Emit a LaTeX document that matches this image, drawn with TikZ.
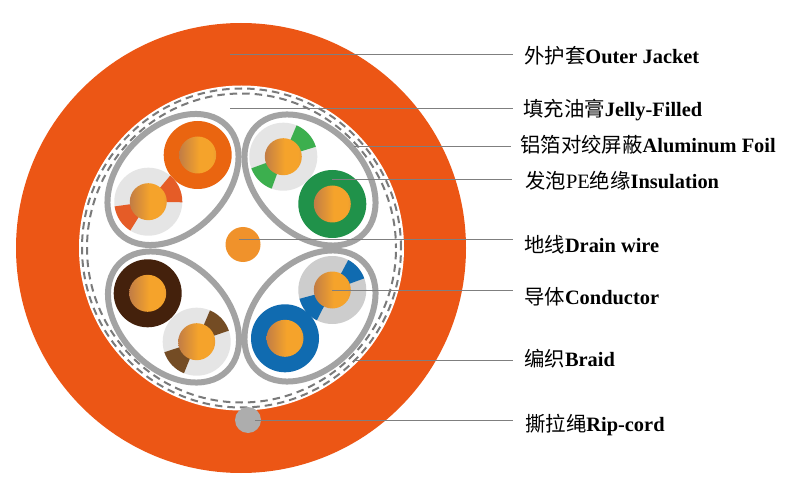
\documentclass[tikz,border=0pt]{standalone}
\usepackage{fontspec}
\setmainfont{Liberation Serif}
\newfontfamily\cjk{Noto Sans CJK SC}
\definecolor{jacket}{HTML}{EC5615}
\definecolor{ringgrey}{HTML}{A3A3A3}
\definecolor{dashgrey}{HTML}{7A7A7A}
\definecolor{leadgrey}{HTML}{7F7F7F}
\definecolor{drain}{HTML}{F0922B}
\definecolor{rip}{HTML}{ADADAD}
\definecolor{insOrange}{HTML}{EA6510}
\definecolor{insGreen}{HTML}{20924A}
\definecolor{insBrown}{HTML}{44210C}
\definecolor{insBlue}{HTML}{106BB0}
\definecolor{wedgeGreen}{HTML}{3CAF4E}
\definecolor{wedgeOrange}{HTML}{E55C27}
\definecolor{wedgeBrown}{HTML}{744C24}
\definecolor{pale}{HTML}{E5E5E5}
\definecolor{paleB}{HTML}{CDCDCD}
\pgfdeclarehorizontalshading{cond}{100bp}{rgb(0bp)=(0.76,0.49,0.27); rgb(25bp)=(0.76,0.49,0.27); rgb(52bp)=(0.96,0.64,0.17); rgb(70bp)=(0.96,0.64,0.17); rgb(75bp)=(0.92,0.61,0.19); rgb(100bp)=(0.92,0.61,0.19)}
\newcommand{\condcore}[2]{\shade[shading=cond] (#1,{496-#2}) circle (18.5);}
\newcommand{\solidpair}[3]{\fill[#3] (#1,{496-#2}) circle (34); \condcore{#1}{#2}}
\newcommand{\stripedpair}[8]{%
  \fill[#3] (#1,{496-#2}) circle (34);
  \fill[#4] (#1,{496-#2}) -- ++(#5:34) arc[start angle=#5,end angle=#6,radius=34] -- cycle;
  \fill[#4] (#1,{496-#2}) -- ++(#7:34) arc[start angle=#7,end angle=#8,radius=34] -- cycle;
  \condcore{#1}{#2}}
\newcommand{\twist}[3]{\draw[twistline] (#1,{496-#2}) ellipse[x radius=76,y radius=53,rotate=#3];}
\tikzset{
  twistline/.style={draw=ringgrey,line width=6pt},
  foil/.style={draw=dashgrey,line width=2pt,dash pattern=on 7.5pt off 5pt},
  leader/.style={draw=leadgrey,line width=1pt},
  lab/.style={anchor=base west,inner sep=0pt,font=\fontsize{20.4}{24}\selectfont\bfseries}
}
\begin{document}
\begin{tikzpicture}[x=1pt,y=1pt]
\useasboundingbox (0,0) rectangle (795,496);
\fill[white] (0,0) rectangle (795,496);
% jacket and filling
\fill[jacket] (241,248) circle (225);
\fill[white] (241.5,248) circle (162.5);
\draw[foil] (241.5,248) circle (159.5);
\draw[foil,dash phase=3pt] (241.5,248) circle (154.5);
% twisted pairs
\twist{173}{179.5}{45}
\twist{310}{180}{-45}
\twist{173.5}{317}{-45}
\twist{310}{316}{45}
\solidpair{197.7}{155}{insOrange}
\stripedpair{148.3}{201.7}{pale}{wedgeOrange}{-1}{50}{188}{238}
\stripedpair{283.3}{156.7}{pale}{wedgeGreen}{17}{67}{200}{250}
\solidpair{332.3}{204}{insGreen}
\solidpair{147.7}{293.3}{insBrown}
\stripedpair{196.7}{341.7}{pale}{wedgeBrown}{19}{67}{198}{248}
\stripedpair{332.3}{290}{paleB}{insBlue}{20}{62}{195}{243}
\solidpair{285}{338.3}{insBlue}
% drain wire, rip cord
\fill[drain] (243,251.5) circle (17.5);
\fill[rip] (248,76) circle (13);
% labels
\node[lab] (outer) at (524,432) {{\cjk\mdseries 外护套}Outer Jacket};
\node[lab] (jelly) at (523,379) {{\cjk\mdseries 填充油膏}Jelly-Filled};
\node[lab] (foilL) at (520,343) {{\cjk\mdseries 铝箔对绞屏蔽}Aluminum Foil};
\node[lab] (insul) at (525,307.5) {{\cjk\mdseries 发泡}{\mdseries PE}{\cjk\mdseries 绝缘}Insulation};
\node[lab] (drainL) at (524,243.5) {{\cjk\mdseries 地线}Drain wire};
\node[lab] (cond) at (524,192) {{\cjk\mdseries 导体}Conductor};
\node[lab] (braid) at (524,130) {{\cjk\mdseries 编织}Braid};
\node[lab] (ripL) at (525,65) {{\cjk\mdseries 撕拉绳}Rip-cord};
% leaders
\coordinate (s1) at (230,441);
\coordinate (s2) at (230,387);
\coordinate (s3) at (354,349.5);
\coordinate (s4) at (332,316.5);
\coordinate (s5) at (239,256);
\coordinate (s6) at (332,206);
\coordinate (s7) at (353,136);
\coordinate (s8) at (255,76);
\draw[leader] (s1) -- ([xshift=-11pt]s1 -| outer.west);
\draw[leader] (s2) -- ([xshift=-10pt]s2 -| jelly.west);
\draw[leader] (s3) -- ([xshift=-9pt]s3 -| foilL.west);
\draw[leader] (s4) -- ([xshift=-13pt]s4 -| insul.west);
\draw[leader] (s5) -- ([xshift=-11pt]s5 -| drainL.west);
\draw[leader] (s6) -- ([xshift=-11pt]s6 -| cond.west);
\draw[leader] (s7) -- ([xshift=-11pt]s7 -| braid.west);
\draw[leader] (s8) -- ([xshift=-12pt]s8 -| ripL.west);
\end{tikzpicture}
\end{document}
